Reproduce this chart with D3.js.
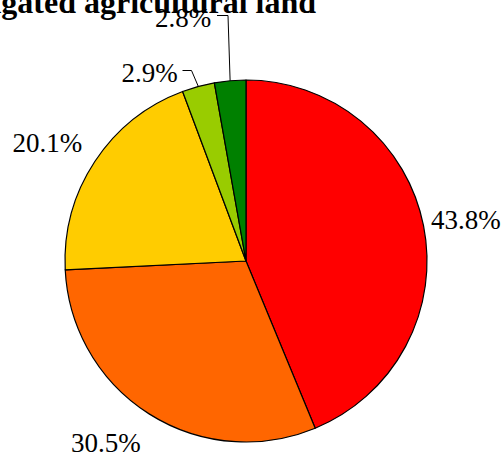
<!DOCTYPE html>
<html>
<head>
<meta charset="utf-8">
<script src="https://cdn.jsdelivr.net/npm/d3@7/dist/d3.min.js"></script>
<style>
  html, body { margin: 0; padding: 0; background: #fff; }
  svg { display: block; }
  text { font-family: "Liberation Serif", "Times New Roman", Times, "DejaVu Serif", serif; }
</style>
</head>
<body>
<div id="chart"></div>
<script>
// Share of irrigated agricultural land, by category
const titleText = "Irrigated agricultural land";
const categories = ["A", "B", "C", "D", "E"];
const values = [43.8, 30.5, 20.1, 2.9, 2.8];
const labels = ["43.8%", "30.5%", "20.1%", "2.9%", "2.8%"];
const colors = ["#ff0000", "#ff6600", "#ffcc00", "#99cc00", "#008000"];

const width = 504, height = 456;
const cx = 246, cy = 261, radius = 181;

// Text placement for each slice label (start x, baseline y)
const labelAt = [
  [431, 229], [71, 451.5], [12.5, 152], [121.5, 81.5], [155, 27]
];
// Leader lines for the two narrow slices: elbow point and end x
const leaders = [
  null, null, null,
  { elbow: [191.5, 70.5], endX: 182.5 },
  { elbow: [228, 15.5], endX: 217 }
];

const svg = d3.select("#chart").append("svg")
  .attr("width", width).attr("height", height);

svg.append("text")
  .attr("x", 316).attr("y", 12.5)
  .attr("text-anchor", "end")
  .attr("font-weight", "bold")
  .attr("font-size", 32)
  .attr("fill", "#000")
  .text(titleText);

const pie = d3.pie().sort(null).value(d => d)(values);
const arc = d3.arc().innerRadius(0).outerRadius(radius);
const edge = d3.arc().innerRadius(radius).outerRadius(radius);

const g = svg.append("g").attr("transform", `translate(${cx},${cy})`);

g.selectAll("path.slice")
  .data(pie)
  .join("path")
  .attr("class", "slice")
  .attr("d", arc)
  .attr("fill", (d, i) => colors[i])
  .attr("stroke", "#000")
  .attr("stroke-width", 1.2)
  .attr("stroke-linejoin", "round");

// Leader lines from slice edge to the label
pie.forEach((d, i) => {
  const L = leaders[i];
  if (!L) return;
  const [ex, ey] = edge.centroid(d);
  const pts = [[ex + cx, ey + cy], L.elbow, [L.endX, L.elbow[1]]];
  svg.append("path")
    .attr("d", d3.line()(pts))
    .attr("fill", "none")
    .attr("stroke", "#000")
    .attr("stroke-width", 1);
});

svg.selectAll("text.lbl")
  .data(labels)
  .join("text")
  .attr("class", "lbl")
  .attr("x", (d, i) => labelAt[i][0])
  .attr("y", (d, i) => labelAt[i][1])
  .attr("font-size", 27)
  .attr("fill", "#000")
  .text(d => d);
</script>
</body>
</html>
